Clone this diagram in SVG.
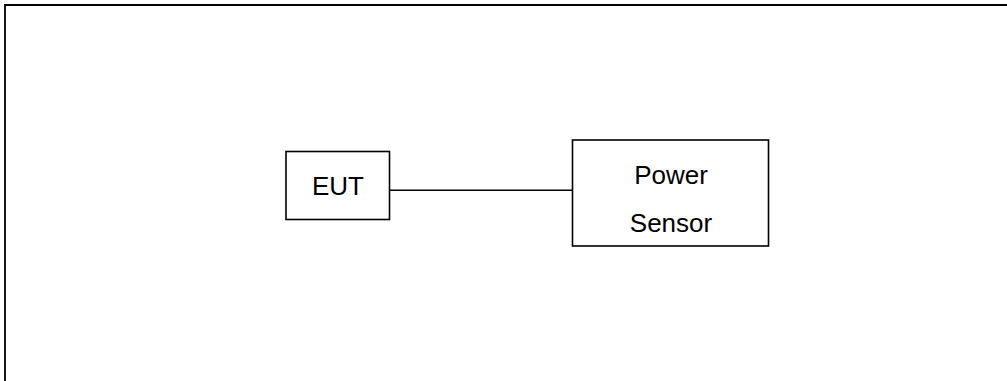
<svg xmlns="http://www.w3.org/2000/svg" width="1007" height="381" viewBox="0 0 1007 381">
<style>
.box{fill:#fff;stroke:#000;stroke-width:1.6}
.lbl{font-family:"Liberation Sans",Arial,sans-serif;font-size:26px;fill:#000;text-anchor:middle}
.wire{stroke:#000;stroke-width:1.5;fill:none}
.frame{stroke:#000;stroke-width:1.8;fill:none}
</style>
<rect width="1007" height="381" fill="#fff"/>
<path class="frame" d="M5,381 V5 H1007"/>
<g id="connectors">
<line class="wire" x1="389.5" y1="190.3" x2="572.5" y2="190.3"/>
</g>
<g id="eut">
<rect class="box" x="286" y="151.5" width="103.5" height="68"/>
<text class="lbl" x="338" y="195">EUT</text>
</g>
<g id="power-sensor">
<rect class="box" x="572.5" y="140" width="196" height="106"/>
<text class="lbl" x="671" y="184">Power</text>
<text class="lbl" x="671" y="232">Sensor</text>
</g>
</svg>
